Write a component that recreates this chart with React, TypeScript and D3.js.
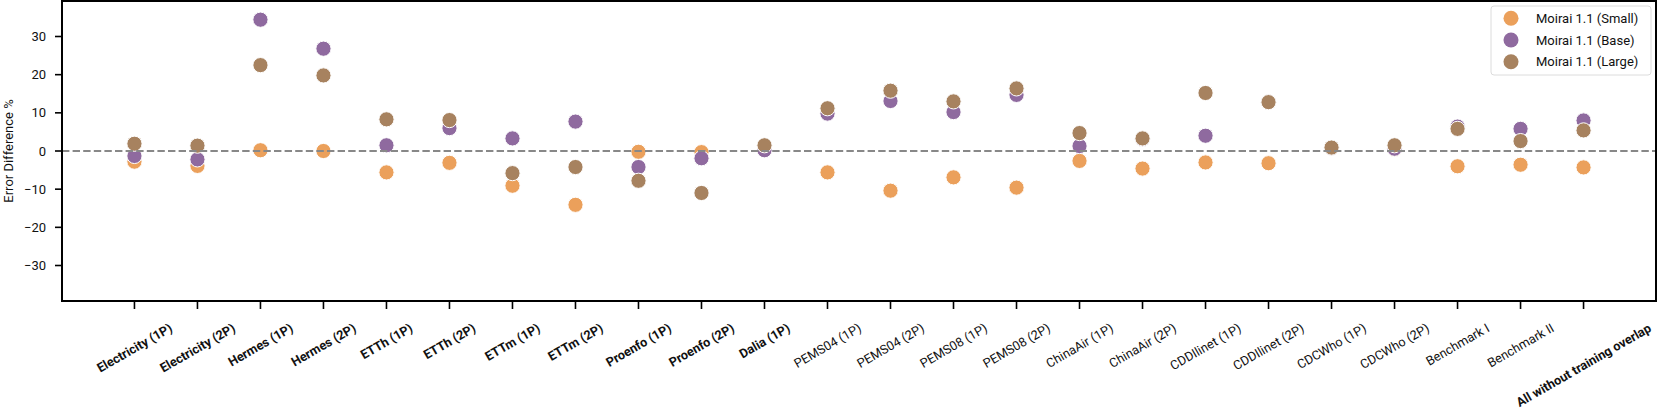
import { useLayoutEffect, useRef, useState } from "react";
import * as d3 from "d3";

const width = 1661;
const height = 413;
const margin = { top: 1, right: 5, bottom: 112, left: 62 };

const categories = [
  "Electricity (1P)",
  "Electricity (2P)",
  "Hermes (1P)",
  "Hermes (2P)",
  "ETTh (1P)",
  "ETTh (2P)",
  "ETTm (1P)",
  "ETTm (2P)",
  "Proenfo (1P)",
  "Proenfo (2P)",
  "Dalia (1P)",
  "PEMS04 (1P)",
  "PEMS04 (2P)",
  "PEMS08 (1P)",
  "PEMS08 (2P)",
  "ChinaAir (1P)",
  "ChinaAir (2P)",
  "CDDIlinet (1P)",
  "CDDIlinet (2P)",
  "CDCWho (1P)",
  "CDCWho (2P)",
  "Benchmark I",
  "Benchmark II",
  "All without training overlap",
];

// labels drawn in bold
const boldLabels = [
  "Electricity (1P)",
  "Electricity (2P)",
  "Hermes (1P)",
  "Hermes (2P)",
  "ETTh (1P)",
  "ETTh (2P)",
  "ETTm (1P)",
  "ETTm (2P)",
  "Proenfo (1P)",
  "Proenfo (2P)",
  "Dalia (1P)",
  "All without training overlap",
];

const smallValues = [
  -2.8, -3.9, 0.2, 0.0, -5.6, -3.1, -9.1, -14.1, -0.2, -0.3, 0.3, -5.6,
  -10.4, -6.9, -9.6, -2.6, -4.6, -3.0, -3.2, 0.8, 0.5, -4.0, -3.6, -4.3,
];
const baseValues = [
  -1.3, -2.2, 34.4, 26.8, 1.5, 6.0, 3.3, 7.7, -4.2, -1.9, 0.2, 9.8, 13.1,
  10.2, 14.7, 1.3, 3.1, 4.0, 12.8, 0.8, 0.6, 6.4, 5.8, 8.0,
];
const largeValues = [
  1.9, 1.4, 22.5, 19.8, 8.3, 8.1, -5.8, -4.2, -7.8, -11.0, 1.5, 11.2, 15.8,
  13.0, 16.4, 4.7, 3.3, 15.2, 12.8, 0.9, 1.5, 5.8, 2.6, 5.4,
];

const seriesNames = ["Moirai 1.1 (Small)", "Moirai 1.1 (Base)", "Moirai 1.1 (Large)"];
const seriesColors = ["#EBA05B", "#8F6A9F", "#A7825F"];
const yTicks = [-30, -20, -10, 0, 10, 20, 30];

const font = "Roboto, 'Liberation Sans', sans-serif";

const App = () => {
  const labelRefs = useRef<(SVGTextElement | null)[]>([]);
  const [lengths, setLengths] = useState<number[]>([]);

  const x = d3
    .scalePoint<string>()
    .domain(categories)
    .range([margin.left, width - margin.right])
    .padding(1.15);

  const y = d3
    .scaleLinear()
    .domain([-39.3, 39.3])
    .range([height - margin.bottom, margin.top]);

  const fmt = d3.format("d");
  const series = [smallValues, baseValues, largeValues];
  const bottom = height - margin.bottom;

  // measure label widths so rotated labels hang below the ticks
  useLayoutEffect(() => {
    setLengths(labelRefs.current.map((el) => (el ? el.getComputedTextLength() : 0)));
  }, []);

  const angle = 30;
  const rad = (angle * Math.PI) / 180;
  const labelTop = bottom + 21;
  const fontH = 11;

  return (
    <svg
      width={width}
      height={height}
      style={{ position: "absolute", left: 0, top: 0, fontFamily: font }}
    >
      <rect width={width} height={height} fill="white" />

      {/* points */}
      {series.map((vals, s) =>
        vals.map((v, i) => (
          <circle
            key={`${s}-${i}`}
            cx={x(categories[i])}
            cy={y(v)}
            r={7.6}
            fill={seriesColors[s]}
            stroke="white"
            strokeWidth={1}
          />
        ))
      )}

      {/* zero line */}
      <line
        x1={margin.left}
        x2={width - margin.right}
        y1={y(0)}
        y2={y(0)}
        stroke="#888"
        strokeWidth={2}
        strokeDasharray="7.4,3.2"
      />

      {/* frame */}
      <rect
        x={margin.left}
        y={margin.top}
        width={width - margin.right - margin.left}
        height={bottom - margin.top}
        fill="none"
        stroke="black"
        strokeWidth={2}
      />

      {/* y axis */}
      {yTicks.map((t) => (
        <g key={t} transform={`translate(0,${y(t)})`}>
          <line x1={margin.left - 7} x2={margin.left} stroke="black" strokeWidth={1.6} />
          <text
            x={46}
            textAnchor="end"
            dominantBaseline="central"
            fontSize={13}
            fill="#111"
          >
            {t < 0 ? "\u2212" + fmt(-t) : fmt(t)}
          </text>
        </g>
      ))}
      <text
        transform={`translate(13,${y(0)}) rotate(-90)`}
        textAnchor="middle"
        fontSize={13}
        fill="#111"
      >
        Error Difference %
      </text>

      {/* x axis */}
      {categories.map((c, i) => {
        const cx = x(c) as number;
        const L = lengths[i] || 0;
        const cy = labelTop + (L * Math.sin(rad) + fontH * Math.cos(rad)) / 2;
        return (
          <g key={c}>
            <line x1={cx} x2={cx} y1={bottom} y2={bottom + 8} stroke="black" strokeWidth={1.6} />
            <text
              ref={(el) => {
                labelRefs.current[i] = el;
              }}
              transform={`translate(${cx},${cy}) rotate(${-angle})`}
              textAnchor="middle"
              dominantBaseline="central"
              fontSize={12.7}
              fontWeight={boldLabels.includes(c) ? 700 : 400}
              fill="#111"
            >
              {c}
            </text>
          </g>
        );
      })}

      {/* legend */}
      <g transform="translate(1491,6)">
        <rect
          width={160}
          height={69}
          rx={3}
          fill="white"
          fillOpacity={0.85}
          stroke="#dcdcdc"
          strokeWidth={1}
        />
        {seriesNames.map((n, i) => (
          <g key={n} transform={`translate(0,${12.3 + i * 21.7})`}>
            <circle cx={20} cy={0} r={7.5} fill={seriesColors[i]} />
            <text x={45} dominantBaseline="central" fontSize={13} fill="#111">
              {n}
            </text>
          </g>
        ))}
      </g>
    </svg>
  );
};

export default App;
